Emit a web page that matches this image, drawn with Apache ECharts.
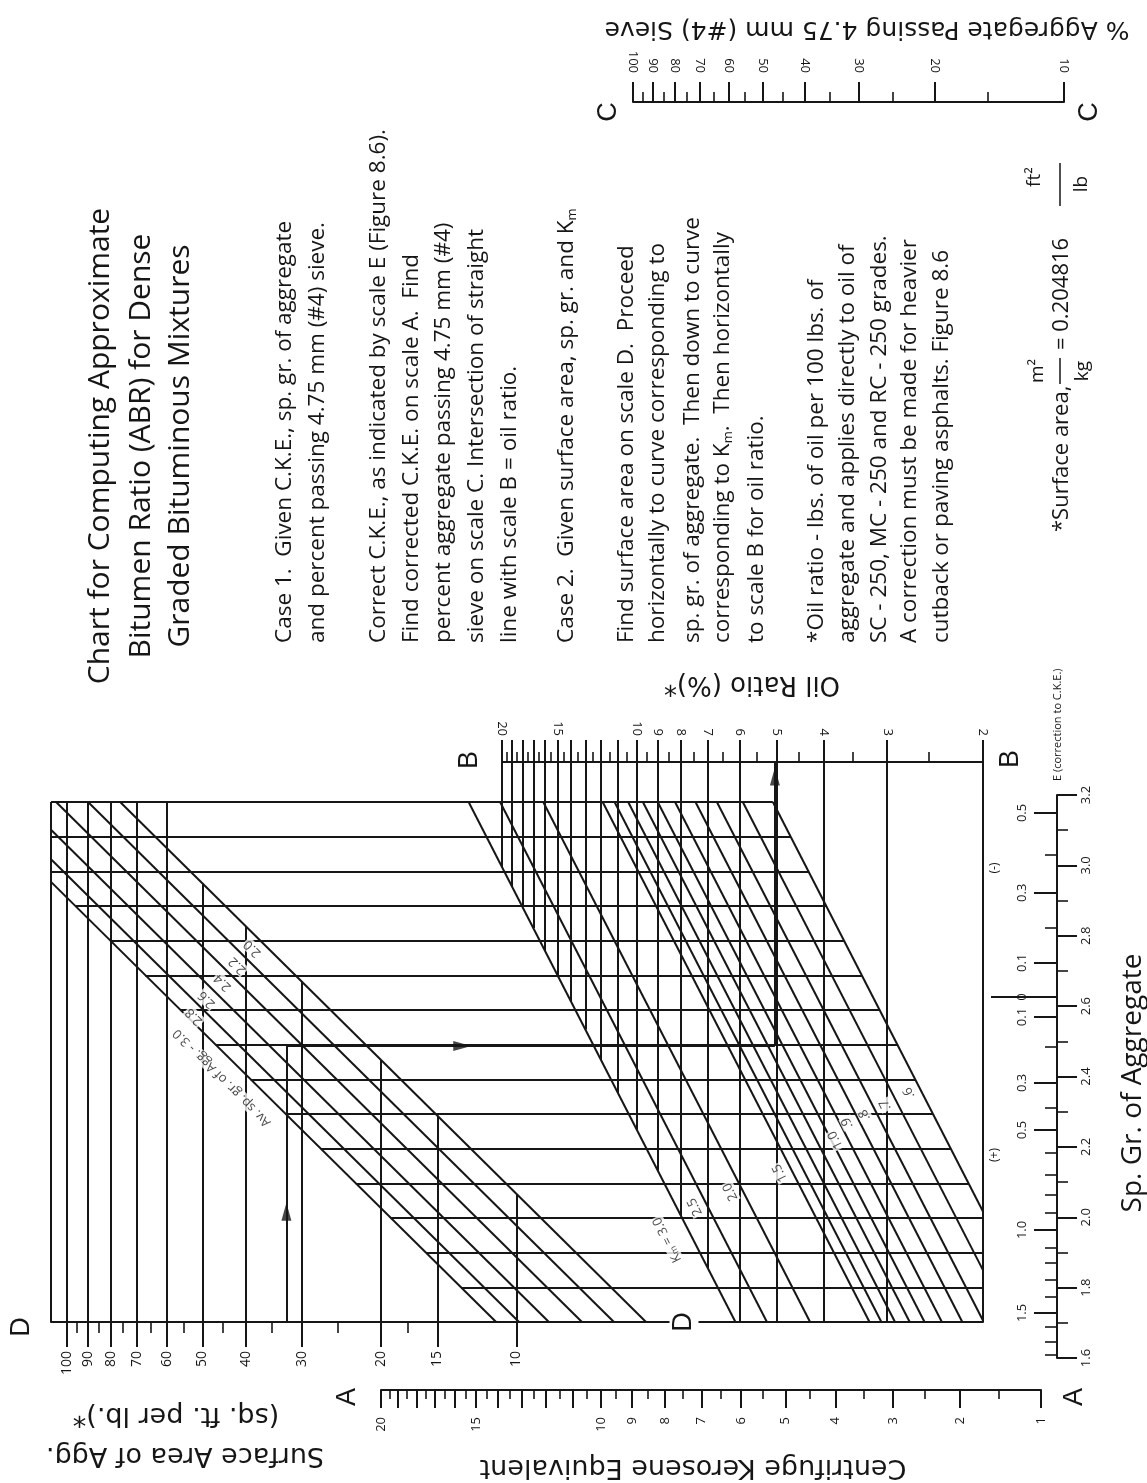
<!DOCTYPE html>
<html>
<head>
<meta charset="utf-8">
<script src="https://cdn.jsdelivr.net/npm/echarts@6/dist/echarts.min.js"></script>
<style>
  html, body { margin: 0; padding: 0; background: #fff; }
  #chart { width: 1147px; height: 1483px; }
</style>
</head>
<body>
<div id="chart"></div>
<script>
// ---------- Scale D: surface area of aggregate (sq. ft. per lb.) ----------
const surfaceAreaTicks = [100, 90, 80, 70, 60, 50, 40, 30, 20, 15, 10];
const surfaceAreaMinorTicks = [95, 85, 75, 65, 55, 45, 35, 25, 17.5];

// ---------- Scale B: oil ratio (%) ----------
const oilRatioTicks = [20, 19, 18, 17, 16, 15, 14, 13, 12, 11, 10, 9, 8, 7, 6, 5, 4, 3, 2];
const oilRatioLabels = [20, 15, 10, 9, 8, 7, 6, 5, 4, 3, 2];
const oilRatioMinorTicks = [19.5, 18.5, 17.5, 16.5, 15.5, 14.5, 13.5, 12.5, 11.5, 10.5,
                            9.5, 8.5, 7.5, 6.5, 5.5, 4.5, 3.5, 2.5];

// ---------- Scale A: centrifuge kerosene equivalent ----------
const ckeTicks = [20, 19, 18, 17, 16, 15, 14, 13, 12, 11, 10, 9, 8, 7, 6, 5, 4, 3, 2, 1];
const ckeLabels = [20, 15, 10, 9, 8, 7, 6, 5, 4, 3, 2, 1];
const ckeMinorTicks = [19.5, 18.5, 17.5, 16.5, 15.5, 14.5, 13.5, 12.5, 11.5, 10.5,
                       9.5, 8.5, 7.5, 6.5, 5.5, 4.5, 3.5, 2.5, 1.5];

// ---------- Scale C: % aggregate passing 4.75 mm (#4) sieve ----------
const passingTicks = [100, 90, 80, 70, 60, 50, 40, 30, 20, 10];
const passingMinorTicks = [95, 85, 75, 65, 55, 45, 35, 25, 15];

// ---------- Scale E: sp. gr. of aggregate and correction to C.K.E. ----------
const spGrTicks = [3.2, 3.0, 2.8, 2.6, 2.4, 2.2, 2.0, 1.8, 1.6];
const spGrMinorTicks = [3.1, 2.9, 2.7, 2.5, 2.3, 2.1, 1.9, 1.7];
const correctionLabels = ['0.5', '0.3', '0.1', '0', '0.1', '0.3', '0.5', '1.0', '1.5'];
const correctionAtSpGr = [3.149, 2.922, 2.723, 2.626, 2.569, 2.382, 2.248, 1.964, 1.728];
const correctionMinorAtSpGr = [3.030, 2.822, 2.484, 2.311, 2.183, 2.120, 2.064, 2.013,
                               1.913, 1.870, 1.822, 1.774, 1.689, 1.646, 1.609];

// ---------- Average sp. gr. curves: reading on scale D where each meets the D line ----------
const spGrCurves = [2.0, 2.2, 2.4, 2.6, 2.8, 3.0];
const spGrCurveAtD = [5.15, 6.07, 7.15, 8.47, 9.87, 11.1];

// ---------- K_m curves: oil ratio (scale B) where each meets the top transfer line ----------
const kmCurves = [3.0, 2.5, 2.0, 1.5, 1.4, 1.3, 1.2, 1.1, 1.0, 0.9, 0.8, 0.7, 0.6];
const kmCurveAtTop = [23.8, 20.2, 16.15, 11.9, 11.2, 10.45, 9.7, 9.0, 8.25, 7.45, 6.7, 5.9, 5.1];
const kmLabelled = [3.0, 2.5, 2.0, 1.5, 1.0, 0.9, 0.8, 0.7, 0.6];

// ---------- Worked example (Case 2) ----------
const exampleSurfaceArea = 32.5;
const exampleSpGr = 2.5;
const exampleOilRatio = 5.05;

// ================= scale functions =================
const tD = v => Math.log10(v);
const tB = v => Math.log10(v - 0.5);
const tA = v => Math.log10(v + 3.4);
const tC = v => Math.log10(v);

// ================= layout =================
const INK = '#161616';
const FONT = '"Open Sans"';
const ROWS = 15;                                   // transfer lines 0..14, row 15 = scale D
const NOMO = { left: 51, right: 983, top: 762, bottom: 1322 };
const TOP_LINE_Y = 802;
const rowPx = (NOMO.bottom - TOP_LINE_Y) / ROWS;
const ROW_B = -(TOP_LINE_Y - NOMO.top) / rowPx;    // row of scale B

function extentThrough(t1, x1, t2, x2) {
  const k = (t2 - t1) / (x2 - x1);
  return { left: t1 + (NOMO.left - x1) * k, right: t1 + (NOMO.right - x1) * k };
}
const dExt = extentThrough(tD(100), 67, tD(10), 516.5);
const bExt = extentThrough(tB(20), 502, tB(2), 983);
const dToB = u => bExt.left - (dExt.left - u) / (dExt.left - dExt.right) * (bExt.left - bExt.right);
const bPerPx = (bExt.left - bExt.right) / (NOMO.right - NOMO.left);

const SG_STEP = 0.078;    // log10 surface area per transfer line
const KM_STEP = 0.0412;   // log10 (oil ratio - 0.5) per transfer line
const sgAt = (i, row) => tD(spGrCurveAtD[i]) + SG_STEP * (ROWS - row);
const sgRowAt = (i, u) => ROWS - (u - tD(spGrCurveAtD[i])) / SG_STEP;
const kmAt = (i, row) => tB(kmCurveAtTop[i]) - KM_STEP * row;
const kmRowAt = (i, u) => (tB(kmCurveAtTop[i]) - u) / KM_STEP;

// ---------- left panel (surface area / sp. gr.) ----------
const leftSegs = [];
leftSegs.push([[dExt.left, 0], [dExt.left, ROWS]]);
surfaceAreaTicks.forEach(d => {
  const top = d >= 60 ? 0 : Math.max(0, sgRowAt(0, tD(d)));
  leftSegs.push([[tD(d), ROWS], [tD(d), top]]);
});
spGrCurves.forEach((g, i) => {
  const start = Math.max(0, ROWS - (dExt.left - tD(spGrCurveAtD[i])) / SG_STEP);
  leftSegs.push([[sgAt(i, start), start], [tD(spGrCurveAtD[i]), ROWS]]);
});

// ---------- right panel (K_m / oil ratio) ----------
const rightSegs = [];
rightSegs.push([[tB(20), ROW_B], [tB(2), ROW_B]]);
oilRatioTicks.forEach(b => {
  const bottom = Math.min(ROWS, kmRowAt(0, tB(b)));
  rightSegs.push([[tB(b), ROW_B], [tB(b), bottom]]);
});
kmCurves.forEach((k, i) => {
  const end = Math.min(ROWS, kmRowAt(i, bExt.right));
  rightSegs.push([[kmAt(i, 0), 0], [kmAt(i, end), end]]);
});
const lastSg = spGrCurves.length - 1, lastKm = kmCurves.length - 1;
for (let r = 0; r < ROWS; r++) {
  const l = dToB(Math.min(dExt.left, sgAt(lastSg, r)));
  const rt = Math.max(bExt.right, kmAt(lastKm, r));
  rightSegs.push([[l, r], [rt, r]]);
}

// ---------- worked example path ----------
function spGrEndAt(g) {
  for (let i = 0; i < spGrCurves.length - 1; i++) {
    const a = spGrCurves[i], b = spGrCurves[i + 1];
    if (g >= a && g <= b) {
      const f = (g - a) / (b - a);
      return tD(spGrCurveAtD[i]) * (1 - f) + tD(spGrCurveAtD[i + 1]) * f;
    }
  }
  return tD(spGrCurveAtD[0]);
}
const exU = tD(exampleSurfaceArea);
const exRow = ROWS - (exU - spGrEndAt(exampleSpGr)) / SG_STEP;
const exX = dToB(exU), exB = tB(exampleOilRatio);
const pathSegs = [
  [[exX, ROWS], [exX, exRow]],
  [[exX, exRow], [exB, exRow]],
  [[exB, exRow], [exB, ROW_B]]
];
const arrowData = [
  { value: [exX, exRow + 0.6 * (ROWS - exRow)], symbolRotate: 0 },
  { value: [exX + 0.36 * (exB - exX), exRow], symbolRotate: -90 },
  { value: [exB, ROW_B + 0.42], symbolRotate: 0 }
];

// ---------- curve labels ----------
const sgLabelData = spGrCurves.map((g, i) => {
  const last = i === spGrCurves.length - 1;
  const row = last ? 7.18 : 3.77 + 0.49 * i;
  return {
    value: [sgAt(i, row), row + (last ? 0.78 : 0.46)],
    name: last ? 'Av. sp. gr. of Agg. - ' + g.toFixed(1) : g.toFixed(1)
  };
});
const kmLabelRows = [12.63, 11.68, 11.25, 10.7, 9.75, 9.26, 9.03, 8.74, 8.39];
const kmLabelData = kmLabelled.map((k, j) => {
  const i = kmCurves.indexOf(k);
  const row = kmLabelRows[j];
  const off = (j === 0 ? 26 : 13) * bPerPx;
  const txt = j === 0 ? '{k|K}{s|m}{k| = ' + k.toFixed(1) + '}'
            : (k >= 1 ? k.toFixed(1) : '.' + Math.round(k * 10));
  return { value: [kmAt(i, row) + off, row], name: txt };
});

// ================= axes =================
function labelOf(values, f, fmt) {
  return v => {
    for (let i = 0; i < values.length; i++) {
      if (Math.abs(f(values[i]) - v) < 1e-6) return fmt ? fmt(values[i], i) : String(values[i]);
    }
    return '';
  };
}
function axis(o) {
  return {
    type: 'value', gridIndex: o.grid, position: o.position,
    min: o.min, max: o.max, inverse: !!o.inverse,
    show: o.show !== false, silent: true,
    splitLine: { show: false }, splitArea: { show: false }, axisPointer: { show: false },
    axisLine: { show: !!o.line, onZero: false, lineStyle: { color: INK, width: 2 } },
    axisTick: o.ticks
      ? { show: true, inside: false, length: o.tickLen, customValues: o.ticks,
          lineStyle: { color: INK, width: o.tickW || 2 } }
      : { show: false },
    axisLabel: o.labels
      ? { show: true, customValues: o.labels, formatter: o.fmt, rotate: 90, margin: o.margin,
          color: INK, fontSize: o.fs || 13, fontFamily: FONT }
      : { show: false }
  };
}

const xAxes = [
  axis({ grid: 0, position: 'bottom', min: dExt.right, max: dExt.left, inverse: true, line: true,
         ticks: surfaceAreaTicks.map(tD), tickLen: 25, labels: surfaceAreaTicks.map(tD),
         fmt: labelOf(surfaceAreaTicks, tD), margin: 29, fs: 14 }),
  axis({ grid: 0, position: 'bottom', min: dExt.right, max: dExt.left, inverse: true,
         ticks: surfaceAreaMinorTicks.map(tD), tickLen: 11, tickW: 1.6 }),
  axis({ grid: 0, position: 'top', min: bExt.right, max: bExt.left, inverse: true,
         ticks: oilRatioTicks.map(tB), tickLen: 22, labels: oilRatioLabels.map(tB),
         fmt: labelOf(oilRatioLabels, tB), margin: 26, fs: 13 }),
  axis({ grid: 0, position: 'top', min: bExt.right, max: bExt.left, inverse: true,
         ticks: oilRatioMinorTicks.map(tB), tickLen: 10, tickW: 1.6 }),
  axis({ grid: 1, position: 'bottom', min: tA(1), max: tA(20), inverse: true, line: true,
         ticks: ckeTicks.map(tA), tickLen: 18, labels: ckeLabels.map(tA),
         fmt: labelOf(ckeLabels, tA), margin: 27, fs: 13 }),
  axis({ grid: 1, position: 'bottom', min: tA(1), max: tA(20), inverse: true,
         ticks: ckeMinorTicks.map(tA), tickLen: 9, tickW: 1.6 }),
  axis({ grid: 2, position: 'top', min: tC(10), max: tC(100), inverse: true, line: true,
         ticks: passingTicks.map(tC), tickLen: 20, labels: passingTicks.map(tC),
         fmt: labelOf(passingTicks, tC), margin: 29, fs: 13 }),
  axis({ grid: 2, position: 'top', min: tC(10), max: tC(100), inverse: true,
         ticks: passingMinorTicks.map(tC), tickLen: 10, tickW: 1.6 }),
  axis({ grid: 3, position: 'bottom', min: 0, max: 1, show: false })
];
const ident = v => v;
const yAxes = [
  axis({ grid: 0, position: 'left', min: ROW_B, max: ROWS, inverse: true, show: false }),
  axis({ grid: 1, position: 'left', min: 0, max: 1, show: false }),
  axis({ grid: 2, position: 'left', min: 0, max: 1, show: false }),
  axis({ grid: 3, position: 'right', min: 1.6, max: 3.2, line: true,
         ticks: spGrTicks, tickLen: 20, labels: spGrTicks,
         fmt: labelOf(spGrTicks, ident, v => v.toFixed(1)), margin: 23, fs: 13 }),
  axis({ grid: 3, position: 'right', min: 1.6, max: 3.2, ticks: spGrMinorTicks, tickLen: 11, tickW: 1.6 }),
  axis({ grid: 3, position: 'left', min: 1.6, max: 3.2, ticks: correctionAtSpGr, tickLen: 22,
         labels: correctionAtSpGr, fmt: labelOf(correctionAtSpGr, ident, (v, i) => correctionLabels[i]),
         margin: 27, fs: 13 }),
  axis({ grid: 3, position: 'left', min: 1.6, max: 3.2, ticks: correctionMinorAtSpGr, tickLen: 11, tickW: 1.6 }),
  axis({ grid: 3, position: 'left', min: 1.6, max: 3.2,
         ticks: [correctionAtSpGr[correctionLabels.indexOf('0')]], tickLen: 65 })
];

// ================= text =================
function text(str, x, y, o = {}) {
  const align = o.align || 'left', valign = o.valign || 'middle';
  const style = {
    text: str, font: o.font || ('20px ' + FONT), fill: INK,
    align: align, verticalAlign: valign, textAlign: align, textVerticalAlign: valign
  };
  if (o.rich) style.rich = o.rich;
  if (o.bg) { style.backgroundColor = o.bg; style.padding = o.pad || [0, 0]; }
  return { type: 'text', x: x, y: y, rotation: o.rot === undefined ? Math.PI / 2 : o.rot,
           z: 20, silent: true, style: style };
}
const subRich = { s: { fontSize: 13, fontFamily: 'Open Sans', verticalAlign: 'bottom' } };

const titleLines = [
  [100, 'Chart for Computing Approximate'],
  [141, 'Bitumen Ratio (ABR) for Dense'],
  [180, 'Graded Bituminous Mixtures']
];
const bodyLines = [
  [285, 'Case 1.  Given C.K.E., sp. gr. of aggregate'],
  [318, 'and percent passing 4.75 mm (#4) sieve.'],
  [379, 'Correct C.K.E., as indicated by scale E (Figure 8.6).'],
  [412, 'Find corrected C.K.E. on scale A.  Find'],
  [444, 'percent aggregate passing 4.75 mm (#4)'],
  [477, 'sieve on scale C. Intersection of straight'],
  [510, 'line with scale B = oil ratio.'],
  [567, 'Case 2.  Given surface area, sp. gr. and K{s|m}'],
  [627, 'Find surface area on scale D.  Proceed'],
  [658, 'horizontally to curve corresponding to'],
  [693, 'sp. gr. of aggregate.  Then down to curve'],
  [723, 'corresponding to K{s|m}.  Then horizontally'],
  [757, 'to scale B for oil ratio.'],
  [817, '*Oil ratio - lbs. of oil per 100 lbs. of'],
  [848, 'aggregate and applies directly to oil of'],
  [880, 'SC - 250, MC - 250 and RC - 250 grades.'],
  [910, 'A correction must be made for heavier'],
  [942, 'cutback or paving asphalts. Figure 8.6']
];

const graphics = [];
titleLines.forEach(([x, s]) => graphics.push(text(s, x, 446, { font: '30px ' + FONT, align: 'center' })));
bodyLines.forEach(([x, s]) => graphics.push(text(s, x, 643, { font: '22.5px ' + FONT, rich: subRich })));

// surface-area conversion note
graphics.push(text('*Surface area,', 1062, 532, { font: '22px ' + FONT }));
graphics.push(text('m\u00B2', 1038, 371, { font: '19px ' + FONT, align: 'center' }));
graphics.push(text('kg', 1083, 371, { font: '19px ' + FONT, align: 'center' }));
graphics.push({ type: 'line', z: 20, silent: true, shape: { x1: 1060, y1: 358, x2: 1060, y2: 384 },
                style: { stroke: INK, lineWidth: 1.5 } });
graphics.push(text('= 0.204816', 1062, 350, { font: '22px ' + FONT }));
graphics.push(text('ft\u00B2', 1035, 177, { font: '19px ' + FONT, align: 'center' }));
graphics.push(text('lb', 1082, 184, { font: '19px ' + FONT, align: 'center' }));
graphics.push({ type: 'line', z: 20, silent: true, shape: { x1: 1060, y1: 163, x2: 1060, y2: 206 },
                style: { stroke: INK, lineWidth: 1.5 } });

// axis titles (upside down)
const flip = Math.PI;
const TITLE_FONT = '"DejaVu Sans"';
graphics.push(text('Oil Ratio (%)*', 752, 684, { font: '26px ' + TITLE_FONT, align: 'center', rot: flip }));
graphics.push(text('% Aggregate Passing 4.75 mm (#4) Sieve', 867, 28, { font: '25px ' + TITLE_FONT, align: 'center', rot: flip }));
graphics.push(text('Surface Area of Agg.', 185, 1455, { font: '27px ' + TITLE_FONT, align: 'center', rot: flip }));
graphics.push(text('(sq. ft. per lb.)*', 176, 1415, { font: '27px ' + TITLE_FONT, align: 'center', rot: flip }));
graphics.push(text('Centrifuge Kerosene Equivalent', 693, 1467, { font: '27px ' + TITLE_FONT, align: 'center', rot: flip }));
graphics.push(text('Sp. Gr. of Aggregate', 1133, 1083, { font: '28px ' + FONT, align: 'center' }));
graphics.push(text('E (correction to C.K.E.)', 1058, 781, { font: '11px ' + FONT }));
graphics.push(text('(-)', 995, 868, { font: '12px ' + FONT, align: 'center' }));
graphics.push(text('(+)', 995, 1155, { font: '12px ' + FONT, align: 'center' }));

// scale letters
const letter = '27px "Liberation Sans"';
[['D', 22, 1327], ['A', 348, 1397], ['A', 1075, 1397], ['B', 470, 760], ['B', 1011, 759],
 ['C', 609, 112], ['C', 1090, 112]].forEach(([s, x, y]) =>
  graphics.push(text(s, x, y, { font: letter, align: 'center' })));
graphics.push(text('D', 684, 1322, { font: letter, align: 'center', bg: '#fff', pad: [1, 2] }));

// ================= chart =================
const segStyle = { color: INK, width: 2, opacity: 1, curveness: 0 };
const curveLabel = {
  show: true, position: 'inside', formatter: p => p.name,
  color: INK, fontSize: 13, fontFamily: FONT, backgroundColor: '#fff', padding: [0, 1]
};
const option = {
  backgroundColor: '#fff',
  animation: false,
  grid: [
    { left: NOMO.left, top: NOMO.top, width: NOMO.right - NOMO.left, height: NOMO.bottom - NOMO.top,
      containLabel: false, outerBoundsMode: 'none' },
    { left: 381, top: 1380, width: 660, height: 10, containLabel: false, outerBoundsMode: 'none' },
    { left: 633, top: 102, width: 431, height: 10, containLabel: false, outerBoundsMode: 'none' },
    { left: 1056, top: 795, width: 1, height: 563, containLabel: false, outerBoundsMode: 'none' }
  ],
  xAxis: xAxes,
  yAxis: yAxes,
  series: [
    { type: 'lines', coordinateSystem: 'cartesian2d', xAxisIndex: 0, yAxisIndex: 0, silent: true,
      polyline: false, clip: false, z: 2, lineStyle: segStyle,
      data: leftSegs.map(c => ({ coords: c })) },
    { type: 'lines', coordinateSystem: 'cartesian2d', xAxisIndex: 2, yAxisIndex: 0, silent: true,
      polyline: false, clip: false, z: 2, lineStyle: segStyle,
      data: rightSegs.map(c => ({ coords: c })) },
    { type: 'lines', coordinateSystem: 'cartesian2d', xAxisIndex: 2, yAxisIndex: 0, silent: true,
      polyline: false, clip: false, z: 3, lineStyle: segStyle,
      data: pathSegs.map(c => ({ coords: c })) },
    { type: 'scatter', xAxisIndex: 2, yAxisIndex: 0, silent: true, clip: false, z: 4,
      symbol: 'triangle', symbolSize: [10, 18], itemStyle: { color: INK },
      data: arrowData },
    { type: 'scatter', xAxisIndex: 0, yAxisIndex: 0, silent: true, clip: false, z: 5,
      symbol: 'circle', symbolSize: 1, itemStyle: { color: 'rgba(0,0,0,0)' },
      labelLayout: { hideOverlap: false },
      label: Object.assign({}, curveLabel, { rotate: 135 }),
      data: sgLabelData },
    { type: 'scatter', xAxisIndex: 2, yAxisIndex: 0, silent: true, clip: false, z: 5,
      symbol: 'circle', symbolSize: 1, itemStyle: { color: 'rgba(0,0,0,0)' },
      labelLayout: { hideOverlap: false },
      label: Object.assign({}, curveLabel, { rotate: 116.6,
        rich: { k: { fontSize: 13, fontFamily: 'Open Sans', color: INK },
                s: { fontSize: 9, fontFamily: 'Open Sans', color: INK, verticalAlign: 'bottom' } } }),
      data: kmLabelData }
  ],
  graphic: { elements: graphics }
};

const chart = echarts.init(document.getElementById('chart'), null, { renderer: 'canvas' });
chart.setOption(option);
</script>
</body>
</html>
